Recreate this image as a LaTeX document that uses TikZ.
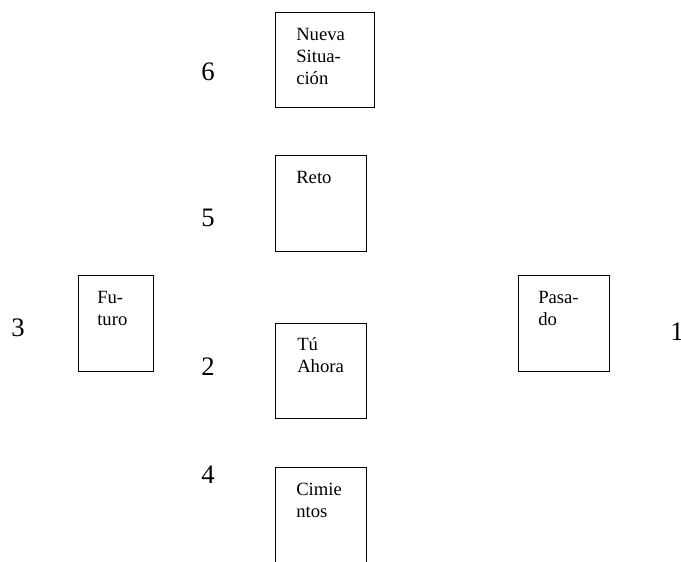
\documentclass[tikz,border=0pt]{standalone}
\usepackage{fontspec}
\setmainfont{Liberation Serif}
\begin{document}
\begin{tikzpicture}[x=0.75pt, y=-0.75pt,
  box/.style={draw, line width=0.9pt, anchor=north west, inner sep=0pt, minimum width=68.25pt, minimum height=72pt},
  boxtext/.style={anchor=north west, inner sep=0pt, align=left, font=\fontsize{14}{16.5}\selectfont},
  num/.style={anchor=base, inner sep=0pt, font=\fontsize{20}{20}\selectfont}]
  \useasboundingbox (0,0) rectangle (681,561);

  % boxes
  \node[box, minimum width=74.25pt, minimum height=71.25pt] (nueva) at (275,12) {};
  \node[box] (reto) at (275,155) {};
  \node[box, minimum width=56.25pt] (futuro) at (78,275) {};
  \node[box] (pasado) at (518,275) {};
  \node[box, minimum height=71.25pt] (ahora) at (275,323) {};
  \node[box] (cimientos) at (275,467) {};

  % texts in the boxes
  \node[boxtext] (nuevatext) at ([shift={(21,16)}]nueva.north west) {Nueva\\Situa-\\ción};
  \node[boxtext] (retotext) at ([shift={(21,16)}]reto.north west) {Reto};
  \node[boxtext] (futurotext) at ([shift={(19,16)}]futuro.north west) {Fu-\\turo};
  \node[boxtext] (pasadotext) at ([shift={(20,16)}]pasado.north west) {Pasa-\\do};
  \node[boxtext] (ahoratext) at ([shift={(22,14)}]ahora.north west) {Tú\\Ahora};
  \node[boxtext] (cimientostext) at ([shift={(21,16)}]cimientos.north west) {Cimie\\ntos};

  % numbers
  \node[num] (n6) at (208,80) {6};
  \node[num] (n5) at (208,226) {5};
  \node[num] (n3) at (18,336) {3};
  \node[num] (n1) at (677,340) {1};
  \node[num] (n2) at (208,375) {2};
  \node[num] (n4) at (208,483) {4};
\end{tikzpicture}
\end{document}
